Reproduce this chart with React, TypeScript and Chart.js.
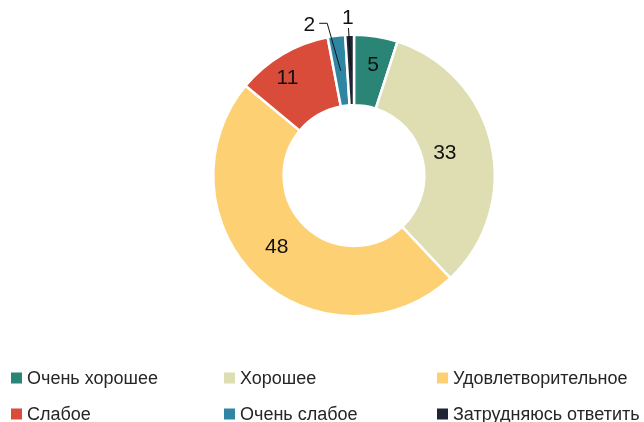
import React, { useEffect, useRef } from "react";
import { Chart, registerables } from "chart.js";

Chart.register(...registerables);

// ---- data ----
const categories = [
  "Очень хорошее",
  "Хорошее",
  "Удовлетворительное",
  "Слабое",
  "Очень слабое",
  "Затрудняюсь ответить",
];
const values = [5, 33, 48, 11, 2, 1];
const colors = ["#2a8576", "#dedeb2", "#fdd173", "#d94c3a", "#2e86a3", "#1f2534"];

// ---- label layout (not data) ----
const labelLayout: any[] = [
  { type: "in", f: 0.59, da: 0.8 },
  { type: "in", f: 0.33, da: -1.4 },
  { type: "in", f: 0.5, da: 3.8 },
  { type: "in", f: 0.67, da: -3.9 },
  { type: "out", da: -9.4, gap: 16, elbow: true },
  { type: "out", da: -0.4, gap: 17, elbow: false },
];

const LABEL_FONT = "21px 'Liberation Sans', Arial, sans-serif";
const LEGEND_FONT = "18px 'Liberation Sans', Arial, sans-serif";
const legendCols = [11, 224, 437];
const legendRows = [378, 414];

const labelsPlugin = {
  id: "sliceLabels",
  afterDatasetsDraw(chart: any) {
    const ctx = chart.ctx;
    const meta = chart.getDatasetMeta(0);
    const ds = chart.data.datasets[0];
    ctx.save();
    ctx.font = LABEL_FONT;
    ctx.fillStyle = "#111";
    ctx.strokeStyle = "#111";
    ctx.lineWidth = 1;
    ctx.textAlign = "center";
    ctx.textBaseline = "middle";
    meta.data.forEach((el: any, i: number) => {
      const p = el.getProps(["x", "y", "startAngle", "endAngle", "innerRadius", "outerRadius"], true);
      const lay = labelLayout[i];
      const mid = (p.startAngle + p.endAngle) / 2;
      const txt = String(ds.data[i]);
      if (lay.type === "in") {
        const a = mid + (lay.da * Math.PI) / 180;
        const r = p.innerRadius + lay.f * (p.outerRadius - p.innerRadius);
        ctx.fillText(txt, p.x + r * Math.cos(a), p.y + r * Math.sin(a));
      } else {
        const a = mid + (lay.da * Math.PI) / 180;
        const r = p.outerRadius + lay.gap;
        const lx = p.x + r * Math.cos(a);
        const ly = p.y + r * Math.sin(a);
        ctx.fillText(txt, lx, ly);
        const rm = (p.innerRadius + p.outerRadius) / 2;
        const tx = p.x + rm * Math.cos(mid);
        const ty = p.y + rm * Math.sin(mid);
        ctx.beginPath();
        if (lay.elbow) {
          ctx.moveTo(lx + 10, ly - 2);
          ctx.lineTo(lx + 18, ly - 2);
          ctx.lineTo(tx, ty);
        } else {
          ctx.moveTo(lx + 0.5, ly + 10);
          ctx.lineTo(tx + 0.5, ty);
        }
        ctx.stroke();
      }
    });
    ctx.restore();
  },
  afterDraw(chart: any) {
    const ctx = chart.ctx;
    const ds = chart.data.datasets[0];
    ctx.save();
    ctx.font = LEGEND_FONT;
    ctx.textAlign = "left";
    ctx.textBaseline = "middle";
    chart.data.labels.forEach((lab: string, i: number) => {
      const x = legendCols[i % 3];
      const y = legendRows[Math.floor(i / 3)];
      ctx.fillStyle = ds.backgroundColor[i];
      ctx.fillRect(x, y - 5.5, 11, 11);
      ctx.fillStyle = "#262626";
      ctx.fillText(lab, x + 16, y + 1);
    });
    ctx.restore();
  },
};

export default function App() {
  const ref = useRef<HTMLCanvasElement | null>(null);
  useEffect(() => {
    document.body.style.margin = "0";
    const chart = new Chart(ref.current as HTMLCanvasElement, {
      type: "doughnut",
      data: {
        labels: categories,
        datasets: [
          {
            data: values,
            backgroundColor: colors,
            borderColor: "#ffffff",
            borderWidth: 2.5,
          },
        ],
      },
      options: {
        animation: false,
        responsive: false,
        cutout: "50%",
        layout: { padding: { left: 212, right: 148, top: 33, bottom: 104 } },
        plugins: {
          legend: { display: false },
          tooltip: { enabled: false },
        },
      },
      plugins: [labelsPlugin],
    });
    return () => chart.destroy();
  }, []);
  return (
    <div style={{ width: 644, height: 422, background: "#fff" }}>
      <canvas ref={ref} width={644} height={422} style={{ display: "block" }} />
    </div>
  );
}
